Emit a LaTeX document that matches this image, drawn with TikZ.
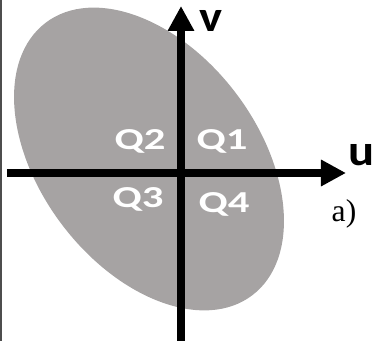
\documentclass[tikz,border=0pt]{standalone}
\usepackage{fontspec}
\setmainfont{Liberation Serif}
\newfontfamily\quadfont{Carlito}
\usetikzlibrary{arrows.meta}
\definecolor{BlobGray}{HTML}{A6A3A3}
\definecolor{EdgeGray}{HTML}{4D4D4D}

\begin{document}
\begin{tikzpicture}[
  x=0.03cm, y=0.03cm,
  quad/.style    = {text=white, inner sep=0pt, anchor=base, xscale=1.4,
                    font=\quadfont\bfseries\fontsize{26}{26}\selectfont},
  axlabel/.style = {inner sep=0pt, anchor=base, xscale=1.12,
                    font=\quadfont\bfseries\fontsize{37}{37}\selectfont},
  axis/.style    = {line width=0.225cm, -{Triangle[length=0.75cm, width=0.75cm]}}
]
  \useasboundingbox (0,0) rectangle (378,341);
  \draw[EdgeGray, line width=0.06cm] (1,0) -- (1,341);

  % distribution
  \fill[BlobGray, rotate around={-52.85:(149,182)}]
    (149,182) ellipse [x radius=171, y radius=109];

  % axes
  \coordinate (uL) at (7,168);
  \coordinate (uR) at (346,168);
  \coordinate (vB) at (181,0);
  \coordinate (vT) at (181,335);
  \draw[axis] (uL) -- (uR);
  \draw[axis] (vB) -- (vT);

  \node[axlabel] (u) at (362,175) {u};
  \node[axlabel] (v) at (211,309) {v};

  % quadrants
  \node[quad] (q1) at (222,191) {Q1};
  \node[quad] (q2) at (140,191) {Q2};
  \node[quad] (q3) at (138,133) {Q3};
  \node[quad] (q4) at (224,128) {Q4};

  \node[inner sep=0pt, anchor=base, scale=2.7] (lbl) at (344,119) {a)};
\end{tikzpicture}
\end{document}
